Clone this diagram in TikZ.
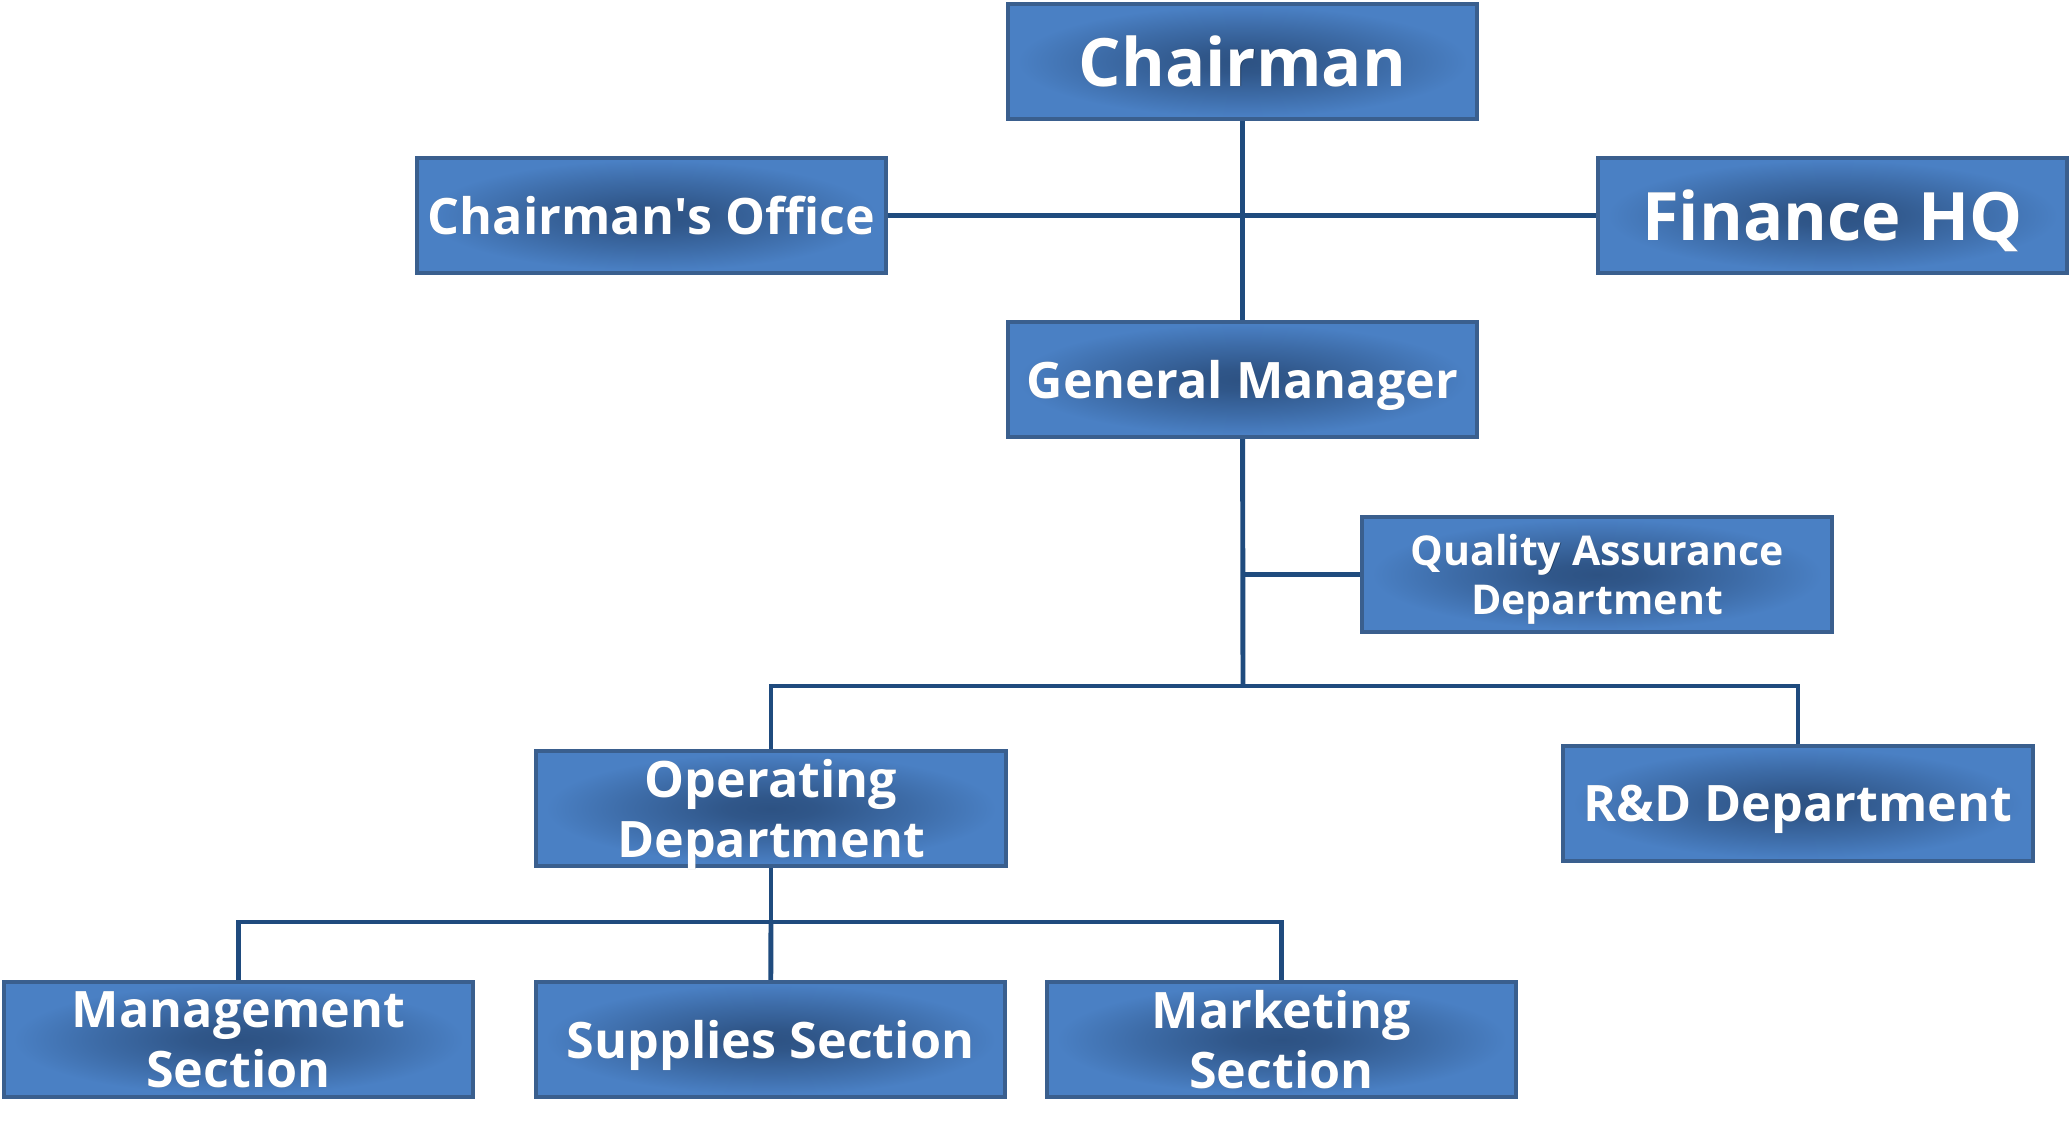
\documentclass[tikz,border=0pt]{standalone}
\usepackage{fontspec}
\setmainfont{Open Sans}
\definecolor{boxlight}{HTML}{4A80C4}
\definecolor{boxdark}{HTML}{2D5283}
\definecolor{boxborder}{HTML}{3A5F8E}
\definecolor{linecol}{HTML}{1F4B7E}
\definecolor{shadowcol}{HTML}{0E2340}
\pgfdeclareradialshading{orgshade}{\pgfpoint{0bp}{0bp}}{%
  color(0bp)=(boxdark); color(5bp)=(boxdark!90!boxlight); color(15bp)=(boxdark!45!boxlight);
  color(24bp)=(boxlight); color(50bp)=(boxlight)}
\tikzset{
  orgbox/.style={draw=boxborder, line width=1.1pt, shading=orgshade,
    minimum width=4.69cm, minimum height=1.15cm, inner sep=0pt, text=white, align=center},
  shadowtxt/.style={text=shadowcol, opacity=0.55, align=center, inner sep=0pt, text depth=0pt},
  whitetxt/.style={text=white, align=center, inner sep=0pt, text depth=0pt},
  conn/.style={draw=linecol, line width=1.4pt},
  bigfont/.style={font=\fontsize{19}{22}\selectfont\bfseries},
  midfont/.style={font=\fontsize{14.3}{17}\selectfont\bfseries},
  smallfont/.style={font=\fontsize{11.7}{14}\selectfont\bfseries},
}
\newcommand\orgnode[4]{%
  \node[orgbox] (#1) at (#2) {};
  \node[shadowtxt,#4] (#1-sh) at ([shift={(0.025,-0.03)}]#1.center) {#3};
  \node[whitetxt,#4] (#1-tx) at (#1.center) {#3};
}
\begin{document}
\begin{tikzpicture}[x=0.01cm,y=-0.01cm]
\useasboundingbox (0,0) rectangle (2072,1137);
\coordinate (chairpos) at (1242.5,61.5);
\coordinate (officepos) at (651.5,215.5);
\coordinate (financepos) at (1832.5,215.5);
\coordinate (gmpos) at (1242.5,379.5);
\coordinate (qapos) at (1597,574.5);
\coordinate (opspos) at (771,808.5);
\coordinate (rdpos) at (1798,803.5);
\coordinate (mgmtpos) at (238.5,1039.5);
\coordinate (suppos) at (770.5,1039.5);
\coordinate (mktpos) at (1281.5,1039.5);
\coordinate (bus1) at (1243,686);
\coordinate (bus2) at (771,922);
\draw[conn] (officepos) -- (financepos);
\draw[conn] (chairpos) -- (gmpos);
\draw[conn] (gmpos) -- (bus1);
\draw[conn] (qapos) -- (qapos -| bus1);
\draw[conn] (opspos) |- (bus1) -| (rdpos);
\draw[conn] (opspos) -- (bus2);
\draw[conn] (mgmtpos) |- (bus2) -| (mktpos);
\draw[conn] (bus2) -- (suppos);
\orgnode{chair}{chairpos}{Chairman}{bigfont}
\orgnode{office}{officepos}{Chairman\textquotesingle s Office}{midfont}
\orgnode{finance}{financepos}{Finance HQ}{bigfont}
\orgnode{gm}{gmpos}{General Manager}{midfont}
\orgnode{qa}{qapos}{Quality Assurance\\Department}{smallfont}
\orgnode{ops}{opspos}{Operating\\Department}{midfont}
\orgnode{rd}{rdpos}{R\&D Department}{midfont}
\orgnode{mgmt}{mgmtpos}{Management\\Section}{midfont}
\orgnode{sup}{suppos}{Supplies Section}{midfont}
\orgnode{mkt}{mktpos}{Marketing\\Section}{midfont}
\end{tikzpicture}
\end{document}
